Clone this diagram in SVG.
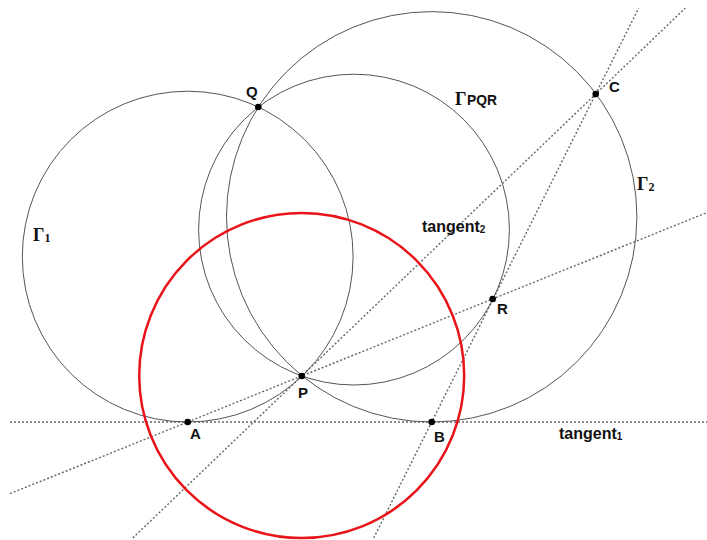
<svg xmlns="http://www.w3.org/2000/svg" width="707" height="540" viewBox="0 0 707 540">
<style>
.circ{fill:none;stroke:#555;stroke-width:1}
.red{fill:none;stroke:#e8141a;stroke-width:2.5}
.dot{fill:none;stroke:#666;stroke-width:1.4;stroke-dasharray:2 2}
.pt{fill:#000}
.lab{font-family:"Liberation Sans",Arial,sans-serif;font-weight:bold;font-size:15px;fill:#111}
.tl{font-family:"Liberation Sans",Arial,sans-serif;font-weight:bold;font-size:16px;fill:#111}
.gam{font-family:"Liberation Serif","Times New Roman",serif;font-weight:bold;font-size:18px;fill:#111}
.sub{font-size:12px}
</style>
<rect width="707" height="540" fill="#fff"/>
<g id="connectors">
<line class="dot" x1="10" y1="422" x2="707" y2="422"/>
<line class="dot" x1="10" y1="493.7" x2="707" y2="212.5"/>
<line class="dot" x1="132.8" y1="538" x2="685.4" y2="8"/>
<line class="dot" x1="373.7" y1="538" x2="638.7" y2="8"/>
</g>
<g id="gamma1">
<circle class="circ" cx="187.7" cy="256.6" r="165.4"/>
<text class="gam" x="33" y="241">Γ<tspan class="sub" dy="1">1</tspan></text>
</g>
<g id="gamma2">
<circle class="circ" cx="431.7" cy="216.8" r="205.2"/>
<text class="gam" x="637" y="190">Γ<tspan class="sub" dy="1">2</tspan></text>
</g>
<g id="gammaPQR">
<circle class="circ" cx="354" cy="229.6" r="155.4"/>
<text class="gam" x="455" y="105">Γ</text>
<text class="lab" x="467" y="105" font-size="11" textLength="30" lengthAdjust="spacingAndGlyphs">PQR</text>
</g>
<g id="redCircle">
<circle class="red" cx="301.7" cy="375.5" r="162.5"/>
</g>
<g id="pointQ"><circle class="pt" cx="258.3" cy="107" r="3.3"/><text class="lab" x="246" y="97">Q</text></g>
<g id="pointC"><circle class="pt" cx="595.7" cy="94" r="3.3"/><text class="lab" x="609" y="92">C</text></g>
<g id="pointP"><circle class="pt" cx="301.7" cy="376" r="3.3"/><text class="lab" x="298" y="398">P</text></g>
<g id="pointA"><circle class="pt" cx="187.7" cy="422" r="3.3"/><text class="lab" x="190" y="439">A</text></g>
<g id="pointB"><circle class="pt" cx="431.7" cy="422" r="3.3"/><text class="lab" x="434" y="442">B</text></g>
<g id="pointR"><circle class="pt" cx="492.7" cy="299" r="3.3"/><text class="lab" x="497" y="314">R</text></g>
<g id="tangent2Label"><text class="tl" x="422" y="232">tangent<tspan font-size="10" dy="1">2</tspan></text></g>
<g id="tangent1Label"><text class="tl" x="559" y="439">tangent<tspan font-size="10" dy="1">1</tspan></text></g>
</svg>
